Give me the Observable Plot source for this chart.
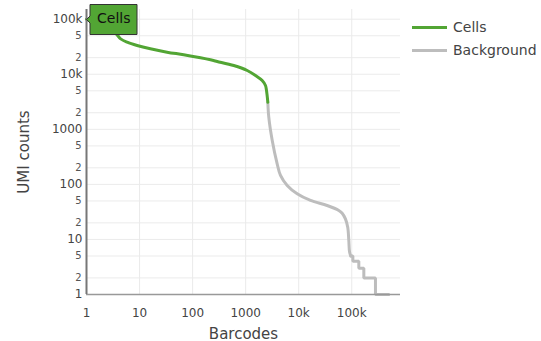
<!DOCTYPE html>
<html><head><meta charset="utf-8">
<script src="https://cdn.jsdelivr.net/npm/d3@7"></script>
<script src="https://cdn.jsdelivr.net/npm/@observablehq/plot@0.6"></script>
<style>
body{margin:0;background:#fff;font-family:"DejaVu Sans",Verdana,sans-serif;}
#wrap{position:relative;width:541px;height:341px;overflow:hidden;}
#chart{position:absolute;left:0;top:0;}
#legend{position:absolute;left:412px;top:15.5px;font-size:14px;color:#444;}
.item{display:flex;align-items:center;height:23px;white-space:nowrap;}
.sw{width:35px;height:3px;margin-right:6px;}
g[aria-label="x-axis label"] text, g[aria-label="y-axis label"] text{font-size:15px;fill:#444;}
g[aria-label="x-axis label"], g[aria-label="y-axis label"]{font-size:15px;}
g[aria-label="tip"] text{fill:#111;stroke:none;}
</style></head><body>
<div id="wrap"><div id="chart"></div><div id="legend"></div></div>
<script>
// Cells (green) curve
const cellsX = [1, 2, 3.5, 4.4, 5.85, 9, 16, 33, 68, 141, 217, 291, 598, 1070, 1535, 2050, 2366, 2470, 2620];
const cellsY = [100000, 72000, 55700, 44000, 38200, 33300, 29000, 25200, 22600, 19900, 18300, 17100, 14400, 11700, 9500, 7700, 6250, 5100, 3100];
// Background (gray) smooth part
const bgX = [2620, 2730, 3170, 3930, 4540, 6070, 9370, 16700, 34400, 57000, 66000, 76000, 84000, 88000, 91000, 96000];
const bgY = [3100, 1660, 627, 236, 145, 95.5, 67.4, 51, 41.3, 33.6, 30, 23.7, 16.7, 9.6, 5.9, 5];
// Background staircase tail
const tailX = [96000, 105000, 136000, 169000, 280000, 499000];
const tailY = [5, 4, 3, 2, 1, 1];

const seriesNames = ["Cells", "Background"];
const seriesColors = ["#52a534", "#bdbdbd"];

const xTicks = [1, 10, 100, 1000, 10000, 100000];
const xTickLabels = ["1", "10", "100", "1000", "10k", "100k"];
const yMajorTicks = [1, 10, 100, 1000, 10000, 100000];
const yMajorLabels = ["1", "10", "100", "1000", "10k", "100k"];
const yMinorTicks = [2, 5, 20, 50, 200, 500, 2000, 5000, 20000, 50000];
const yMinorLabels = ["2", "5", "2", "5", "2", "5", "2", "5", "2", "5"];
const yGrid = [1, 2, 5, 10, 20, 50, 100, 200, 500, 1000, 2000, 5000, 10000, 20000, 50000, 100000];

const cells = cellsX.map((x, i) => ({x, y: cellsY[i]}));
const bg = bgX.map((x, i) => ({x, y: bgY[i]}));
const tail = tailX.map((x, i) => ({x, y: tailY[i]}));
const minor = yMinorTicks.map((v, i) => ({v, label: yMinorLabels[i]}));
const tipData = [{x: cellsX[0], y: cellsY[0], label: seriesNames[0]}];

const font = '"DejaVu Sans", Verdana, sans-serif';
const plot = Plot.plot({
  width: 405, height: 341,
  marginLeft: 86, marginRight: 5, marginTop: 9, marginBottom: 47,
  style: {fontFamily: font, background: "white", overflow: "visible"},
  x: {type: "log", domain: [1, 830000]},
  y: {type: "log", domain: [1, 150000]},
  marks: [
    Plot.gridY(yGrid, {stroke: "#ebebeb", strokeOpacity: 1, strokeWidth: 1}),
    Plot.gridX(xTicks, {stroke: "#ebebeb", strokeOpacity: 1, strokeWidth: 1}),
    Plot.axisX(xTicks, {tickSize: 0, tickPadding: 14, fontSize: 12, color: "#444",
      tickFormat: d => xTickLabels[xTicks.indexOf(d)],
      label: "Barcodes", labelAnchor: "center", labelOffset: 44, labelArrow: "none"}),
    Plot.axisY(yMajorTicks, {tickSize: 0, tickPadding: 4, fontSize: 12, color: "#444",
      tickFormat: d => yMajorLabels[yMajorTicks.indexOf(d)],
      label: "UMI counts", labelAnchor: "center", labelOffset: 68, labelArrow: "none"}),
    Plot.text(minor, {y: "v", text: "label", frameAnchor: "left", textAnchor: "end", dx: -5,
      fontSize: 10, fill: "#555", fontFamily: font}),
    Plot.line(bg, {x: "x", y: "y", stroke: seriesColors[1], strokeWidth: 3, curve: "catmull-rom"}),
    Plot.line(tail, {x: "x", y: "y", stroke: seriesColors[1], strokeWidth: 3, curve: "step-after", strokeLinejoin: "miter"}),
    Plot.line(cells, {x: "x", y: "y", stroke: seriesColors[0], strokeWidth: 3, curve: "catmull-rom"}),
    Plot.ruleY([1], {stroke: "#999", strokeWidth: 1.5}),
    Plot.ruleX([1], {stroke: "#777", strokeWidth: 2}),
    Plot.tip(tipData, {x: "x", y: "y", title: "label", anchor: "left",
      fill: seriesColors[0], stroke: "#333", strokeWidth: 1,
      pointerSize: 7, textPadding: 7, fontSize: 14, fontFamily: font, pathFilter: "none"})
  ]
});
document.getElementById("chart").appendChild(plot);

const legend = document.getElementById("legend");
seriesNames.forEach((name, i) => {
  const item = document.createElement("div");
  item.className = "item";
  const sw = document.createElement("div");
  sw.className = "sw";
  sw.style.background = seriesColors[i];
  const t = document.createElement("span");
  t.textContent = name;
  item.appendChild(sw); item.appendChild(t);
  legend.appendChild(item);
});
</script>
</body></html>
